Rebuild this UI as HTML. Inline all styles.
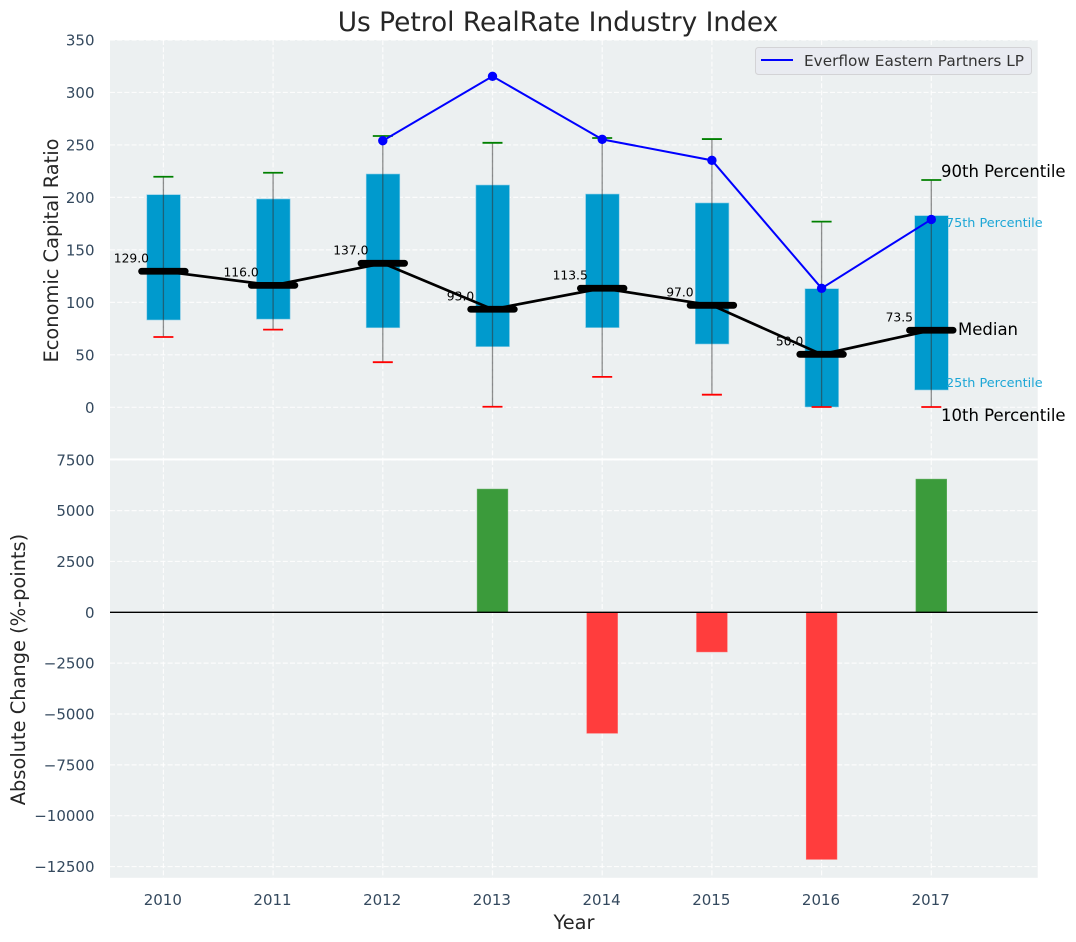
<!DOCTYPE html>
<html>
<head>
<meta charset="utf-8">
<title>Us Petrol RealRate Industry Index</title>
<style>
html,body{margin:0;padding:0;background:#fff;}
svg{display:block;font-family:"DejaVu Sans","Liberation Sans",sans-serif;}
</style>
</head>
<body>
<svg id="chart" width="1076" height="942" viewBox="0 0 1076 942" xmlns="http://www.w3.org/2000/svg"></svg>
<script>
const years = [2010, 2011, 2012, 2013, 2014, 2015, 2016, 2017];
const whiskerHigh = [219.7, 223.5, 258.5, 252, 256.6, 255.6, 176.9, 216.6];
const whiskerLow = [67, 74, 43, 0.5, 29, 12, 0.3, 0.3];
const quartile3 = [202.6, 198.5, 222.3, 211.8, 203.2, 194.7, 113, 182.6];
const quartile1 = [83.2, 84, 75.8, 57.8, 75.9, 60.3, 0.3, 16.5];
const medians = [129.6, 116.2, 137.2, 93.4, 113.4, 97.2, 50.5, 73.4];
const medianLabels = ["129.0", "116.0", "137.0", "93.0", "113.5", "97.0", "50.0", "73.5"];
const everflow = [null, null, 254, 315.4, 255.3, 235.3, 113.4, 179];
const changes = [0, 0, 0, 6060, -5950, -1950, -12150, 6550];
const topTicks = [0, 50, 100, 150, 200, 250, 300, 350];
const bottomTicks = [7500, 5000, 2500, 0, -2500, -5000, -7500, -10000, -12500];

const NS = 'http://www.w3.org/2000/svg';
const svg = document.getElementById('chart');
const PLOT_L = 110, PLOT_R = 1037.7;
const xPos = i => 163.4 + i * 109.7;
const yTop = v => 407.3 - v * 1.0495;
const yBot = v => 612.3 - v * 0.02034;

function mk(tag, attrs, parent, text) {
  const el = document.createElementNS(NS, tag);
  for (const k in attrs) el.setAttribute(k, attrs[k]);
  if (text !== undefined) el.textContent = text;
  (parent || svg).appendChild(el);
  return el;
}
function group(name) {
  const g = mk('g', {});
  
  
  return g;
}
const tickColor = '#34495e';
const fmt = v => (v < 0 ? '\u2212' + Math.abs(v) : String(v));

/* backgrounds */
const bgG = group('plot-backgrounds');
mk('rect', {x: PLOT_L, y: 40, width: PLOT_R - PLOT_L, height: 419, fill: '#ecf0f1'}, bgG);
mk('rect', {x: PLOT_L, y: 459.5, width: PLOT_R - PLOT_L, height: 418.3, fill: '#ecf0f1'}, bgG);

/* grid */
const gridG = group('grid-lines');
const gridStyle = {stroke: '#ffffff', 'stroke-width': 1.2, 'stroke-dasharray': '5 2.2', opacity: 0.85};
years.forEach((yr, i) => {
  mk('line', Object.assign({x1: xPos(i), x2: xPos(i), y1: 40, y2: 459}, gridStyle), gridG);
  mk('line', Object.assign({x1: xPos(i), x2: xPos(i), y1: 460, y2: 878}, gridStyle), gridG);
});
topTicks.forEach(t => {
  mk('line', Object.assign({x1: PLOT_L, x2: PLOT_R, y1: yTop(t), y2: yTop(t)}, gridStyle), gridG);
});
bottomTicks.forEach(t => {
  mk('line', Object.assign({x1: PLOT_L, x2: PLOT_R, y1: yBot(t), y2: yBot(t)}, gridStyle), gridG);
});
mk('rect', {x: PLOT_L, y: 458.4, width: PLOT_R - PLOT_L, height: 2, fill: '#ffffff'}, gridG);

/* tick labels */
const tickG = group('tick-labels');
topTicks.forEach(t => {
  const el = mk('text', {x: 94.5, y: yTop(t) + 5.5, 'text-anchor': 'end', 'font-size': 15, fill: tickColor}, tickG, fmt(t));
  
  
});
bottomTicks.forEach(t => {
  const el = mk('text', {x: 94.5, y: yBot(t) + 5.5, 'text-anchor': 'end', 'font-size': 15, fill: tickColor}, tickG, fmt(t));
  
  
});
years.forEach((yr, i) => {
  const el = mk('text', {x: xPos(i) - 0.6, y: 905, 'text-anchor': 'middle', 'font-size': 15, fill: tickColor}, tickG, String(yr));
  
  
});

/* boxes */
const boxG = group('percentile-boxes');
years.forEach((yr, i) => {
  const el = mk('rect', {x: xPos(i) - 16.6, y: yTop(quartile3[i]), width: 33.6, height: yTop(quartile1[i]) - yTop(quartile3[i]), fill: '#009acd', stroke: '#8ccde6', 'stroke-width': 0.6}, boxG);
  
  
});

/* whiskers */
const whiskG = group('whiskers');
years.forEach((yr, i) => {
  const el = mk('line', {x1: xPos(i), x2: xPos(i), y1: yTop(whiskerHigh[i]), y2: yTop(whiskerLow[i]), stroke: '#333', 'stroke-opacity': 0.55, 'stroke-width': 1.3}, whiskG);
  
  
  const hi = mk('line', {x1: xPos(i) - 10, x2: xPos(i) + 10, y1: yTop(whiskerHigh[i]), y2: yTop(whiskerHigh[i]), stroke: '#008000', 'stroke-width': 1.8}, whiskG);
  
  
  const lo = mk('line', {x1: xPos(i) - 10, x2: xPos(i) + 10, y1: yTop(whiskerLow[i]), y2: yTop(whiskerLow[i]), stroke: '#ff0000', 'stroke-width': 1.8}, whiskG);
  
  
});

/* median value labels: above the boxes, below the median lines */
const labelG = group('median-value-labels');
years.forEach((yr, i) => {
  const el = mk('text', {x: xPos(i) - 32, y: yTop(medians[i]) - 9, 'text-anchor': 'middle', 'font-size': 12.3, fill: '#000'}, labelG, medianLabels[i]);
  
  
});

/* median connecting line + thick ticks */
const medG = group('median-series');
const medLine = mk('polyline', {points: medians.map((m, i) => xPos(i) + ',' + yTop(m)).join(' '), fill: 'none', stroke: '#000', 'stroke-width': 2.7}, medG);


years.forEach((yr, i) => {
  const el = mk('line', {x1: xPos(i) - 21.8, x2: xPos(i) + 21.8, y1: yTop(medians[i]), y2: yTop(medians[i]), stroke: '#000', 'stroke-width': 6.8, 'stroke-linecap': 'round'}, medG);
  
  
});

/* everflow series */
const blueG = group('everflow-series');
const bluePts = [];
everflow.forEach((v, i) => { if (v !== null) bluePts.push(xPos(i) + ',' + yTop(v)); });
const blueLine = mk('polyline', {points: bluePts.join(' '), fill: 'none', stroke: '#0000ff', 'stroke-width': 2}, blueG);


everflow.forEach((v, i) => {
  if (v === null) return;
  const el = mk('circle', {cx: xPos(i), cy: yTop(v), r: 4.7, fill: '#0000ff'}, blueG);
  
  
});

/* bottom bars */
const barG = group('change-bars');
changes.forEach((v, i) => {
  if (!v) return;
  const top = v > 0 ? yBot(v) : yBot(0);
  const h = Math.abs(yBot(v) - yBot(0));
  const el = mk('rect', {x: xPos(i) - 15.4, y: top, width: 30.8, height: h, fill: v > 0 ? '#3b9b3b' : '#ff3d3d', stroke: v > 0 ? '#62b062' : '#ff6a6a', 'stroke-width': 0.5}, barG);
  
  
});
const zero = mk('line', {x1: PLOT_L, x2: PLOT_R, y1: yBot(0), y2: yBot(0), stroke: '#000', 'stroke-width': 1.4});


</script>

<script>
/* static text placed after marks */
(function () {
  const s = document.getElementById('chart');
  s.insertAdjacentHTML('beforeend', `
  <text x="558" y="31" text-anchor="middle" font-size="26.4" fill="#262626">Us Petrol RealRate Industry Index</text>
  <text transform="translate(58,250.5) rotate(-90)" text-anchor="middle" font-size="19.4" fill="#262626">Economic Capital Ratio</text>
  <text transform="translate(25,669.5) rotate(-90)" text-anchor="middle" font-size="19.4" fill="#262626">Absolute Change (%-points)</text>
  <text x="574" y="929" text-anchor="middle" font-size="19.4" fill="#262626">Year</text>
  <text x="941" y="177" font-size="16.5" fill="#000">90th Percentile</text>
  <text x="946" y="227" font-size="12.8" fill="#1ca6d6">75th Percentile</text>
  <text x="958" y="335" font-size="16.5" fill="#000">Median</text>
  <text x="946" y="387" font-size="12.8" fill="#1ca6d6">25th Percentile</text>
  <text x="941" y="421" font-size="16.5" fill="#000">10th Percentile</text>
  <g>
    <rect x="755.5" y="47.5" width="276" height="27" rx="3" fill="#e9ebf1" stroke="#d3d3d6" stroke-width="1"/>
    <line x1="761" x2="793" y1="60" y2="60" stroke="#0000ff" stroke-width="2"/>
    <text x="804" y="66" font-size="15.3" fill="#333">Everflow Eastern Partners LP</text>
  </g>`);
})();
</script>
</body>
</html>
